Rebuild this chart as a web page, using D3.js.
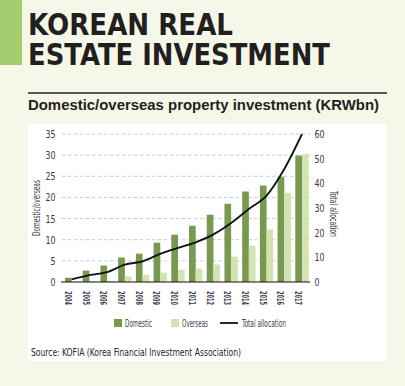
<!DOCTYPE html>
<html lang="en">
<head>
  <meta charset="UTF-8">
  <title>Korean real estate investment</title>
  <script src="https://cdn.jsdelivr.net/npm/d3@7"></script>
  <style>
    body { margin: 0; background: #f5f7e9; }
    svg text { font-family: "Liberation Sans Narrow", "DejaVu Sans Condensed", sans-serif; }
  </style>
</head>
<body>
<div id="chart"></div>
<script>
  const years = ['2004', '2005', '2006', '2007', '2008', '2009', '2010', '2011', '2012', '2013', '2014', '2015', '2016', '2017']
  const domestic = [1.0, 2.7, 3.9, 5.8, 6.7, 9.3, 11.2, 13.3, 15.9, 18.5, 21.4, 22.8, 24.9, 29.9]
  const overseas = [0.1, 0.1, 0.3, 1.3, 1.7, 2.2, 2.9, 3.2, 4.1, 6.0, 8.6, 12.4, 21.1, 30.3]
  const total = [1.1, 2.8, 4.0, 7.0, 8.4, 11.4, 13.8, 16.1, 19.3, 23.9, 29.6, 35.0, 45.8, 60.0]
  const leftTicks = [0, 5, 10, 15, 20, 25, 30, 35]
  const rightTicks = [0, 10, 20, 30, 40, 50, 60]

  const width = 405
  const height = 386
  const DOM_COLOR = '#78994f'
  const OVS_COLOR = '#d1e4b2'
  const TEXT_COLOR = '#3b3a4c'

  const svg = d3.select('#chart').append('svg')
    .attr('width', width)
    .attr('height', height)

  // header
  svg.append('rect').attr('x', 0).attr('y', 0).attr('width', 22).attr('height', 65).attr('fill', '#a3cc6c')

  const title = svg.append('g')
    .attr('font-weight', 'bold')
    .attr('fill', '#231f20')
  title.append('text').attr('x', 28).attr('y', 35).attr('font-size', 30)
    .attr('textLength', 205).attr('lengthAdjust', 'spacingAndGlyphs')
    .style('font-family', '"DejaVu Sans", sans-serif')
    .text('KOREAN REAL')
  title.append('text').attr('x', 28).attr('y', 65).attr('font-size', 30)
    .attr('textLength', 302).attr('lengthAdjust', 'spacingAndGlyphs')
    .style('font-family', '"DejaVu Sans", sans-serif')
    .text('ESTATE INVESTMENT')

  svg.append('line').attr('x1', 28).attr('x2', 387).attr('y1', 93).attr('y2', 93)
    .attr('stroke', '#231f20').attr('stroke-width', 1.3)

  svg.append('text').attr('x', 28).attr('y', 110)
    .attr('font-size', 15).attr('font-weight', 'bold').attr('fill', '#231f20')
    .attr('textLength', 351).attr('lengthAdjust', 'spacingAndGlyphs')
    .style('font-family', '"Liberation Sans", sans-serif')
    .text('Domestic/overseas property investment (KRWbn)')

  // white panel
  svg.append('rect').attr('x', 28).attr('y', 124).attr('width', 358).attr('height', 237).attr('fill', '#ffffff')

  // scales
  const x = d3.scaleBand()
    .domain(years)
    .range([60.6, 313.1])
    .paddingInner(0.245)
    .paddingOuter(0.25)
  const sub = d3.scaleBand()
    .domain(['domestic', 'overseas'])
    .range([0, x.bandwidth()])

  const yL = d3.scaleLinear().domain([0, 35]).range([282, 134])
  const yR = d3.scaleLinear().domain([0, 60]).range([282, 134])

  // grid
  svg.append('g')
    .selectAll('line')
    .data(leftTicks.slice(1))
    .join('line')
    .attr('x1', 62).attr('x2', 310)
    .attr('y1', d => yL(d)).attr('y2', d => yL(d))
    .attr('stroke', '#b4d6dc').attr('stroke-width', 1)
    .attr('stroke-dasharray', '3.5,2.5')

  // left axis
  svg.append('g')
    .attr('transform', 'translate(58,0)')
    .call(d3.axisLeft(yL).tickValues(leftTicks).tickSize(0).tickPadding(2))
    .call(g => g.select('.domain').remove())
    .call(g => g.selectAll('text').attr('font-size', 11).attr('fill', TEXT_COLOR)
      .attr('transform', 'scale(0.8,1)')
      .attr('x', -3))

  // right axis
  svg.append('g')
    .attr('transform', 'translate(312,0)')
    .call(d3.axisRight(yR).tickValues(rightTicks).tickSize(0).tickPadding(2))
    .call(g => g.select('.domain').remove())
    .call(g => g.selectAll('text').attr('font-size', 11).attr('fill', TEXT_COLOR)
      .attr('transform', 'scale(0.8,1)')
      .attr('x', 3))

  // axis titles
  svg.append('text')
    .attr('transform', `translate(40,${208}) rotate(-90)`)
    .attr('text-anchor', 'middle')
    .attr('font-size', 10).attr('fill', TEXT_COLOR)
    .attr('textLength', 56).attr('lengthAdjust', 'spacingAndGlyphs')
    .text('Domestic/overseas')
  svg.append('text')
    .attr('transform', `translate(330,${214}) rotate(90)`)
    .attr('text-anchor', 'middle')
    .attr('font-size', 10).attr('fill', TEXT_COLOR)
    .attr('textLength', 46).attr('lengthAdjust', 'spacingAndGlyphs')
    .text('Total allocation')

  // bars
  const rows = years.map((year, i) => ({year, domestic: domestic[i], overseas: overseas[i], total: total[i]}))

  svg.append('g')
    .selectAll('g')
    .data(rows)
    .join('g')
    .attr('transform', d => `translate(${x(d.year)},0)`)
    .selectAll('rect')
    .data(d => [{key: 'domestic', value: d.domestic}, {key: 'overseas', value: d.overseas}])
    .join('rect')
    .attr('x', d => sub(d.key))
    .attr('width', sub.bandwidth())
    .attr('y', d => yL(d.value))
    .attr('height', d => yL(0) - yL(d.value))
    .attr('fill', d => d.key === 'domestic' ? DOM_COLOR : OVS_COLOR)

  // baseline
  svg.append('line').attr('x1', 61).attr('x2', 310).attr('y1', yL(0)).attr('y2', yL(0))
    .attr('stroke', '#111').attr('stroke-width', 1.2)

  // total line
  const line = d3.line()
    .x(d => x(d.year) + x.bandwidth() / 2)
    .y(d => yR(d.total))
    .curve(d3.curveMonotoneX)
  svg.append('path')
    .datum(rows)
    .attr('fill', 'none')
    .attr('stroke', '#111')
    .attr('stroke-width', 1.8)
    .attr('d', line)

  // x labels
  svg.append('g')
    .selectAll('text')
    .data(years)
    .join('text')
    .attr('transform', d => `translate(${x(d) + sub.bandwidth() / 2 - 3.5},${291}) rotate(90)`)
    .attr('font-size', 9.5).attr('font-weight', 'bold').attr('fill', TEXT_COLOR)
    .attr('textLength', 14).attr('lengthAdjust', 'spacingAndGlyphs')
    .text(d => d)

  // legend
  const legend = svg.append('g').attr('font-size', 10).attr('fill', TEXT_COLOR)
  legend.append('rect').attr('x', 114).attr('y', 319).attr('width', 8).attr('height', 8).attr('fill', DOM_COLOR)
  legend.append('text').attr('x', 125).attr('y', 327).text('Domestic')
    .attr('textLength', 27).attr('lengthAdjust', 'spacingAndGlyphs')
  legend.append('rect').attr('x', 171).attr('y', 319).attr('width', 8).attr('height', 8).attr('fill', OVS_COLOR)
  legend.append('text').attr('x', 182).attr('y', 327).text('Overseas')
    .attr('textLength', 26).attr('lengthAdjust', 'spacingAndGlyphs')
  legend.append('line').attr('x1', 220).attr('x2', 238).attr('y1', 323).attr('y2', 323)
    .attr('stroke', '#111').attr('stroke-width', 1.8)
  legend.append('text').attr('x', 242).attr('y', 327).text('Total allocation')
    .attr('textLength', 44).attr('lengthAdjust', 'spacingAndGlyphs')

  // source
  svg.append('text').attr('x', 31).attr('y', 356)
    .attr('font-size', 10).attr('fill', '#231f20')
    .attr('textLength', 210).attr('lengthAdjust', 'spacingAndGlyphs')
    .style('font-family', '"DejaVu Sans Condensed", "Liberation Sans Narrow", sans-serif')
    .text('Source: KOFIA (Korea Financial Investment Association)')
</script>
</body>
</html>
